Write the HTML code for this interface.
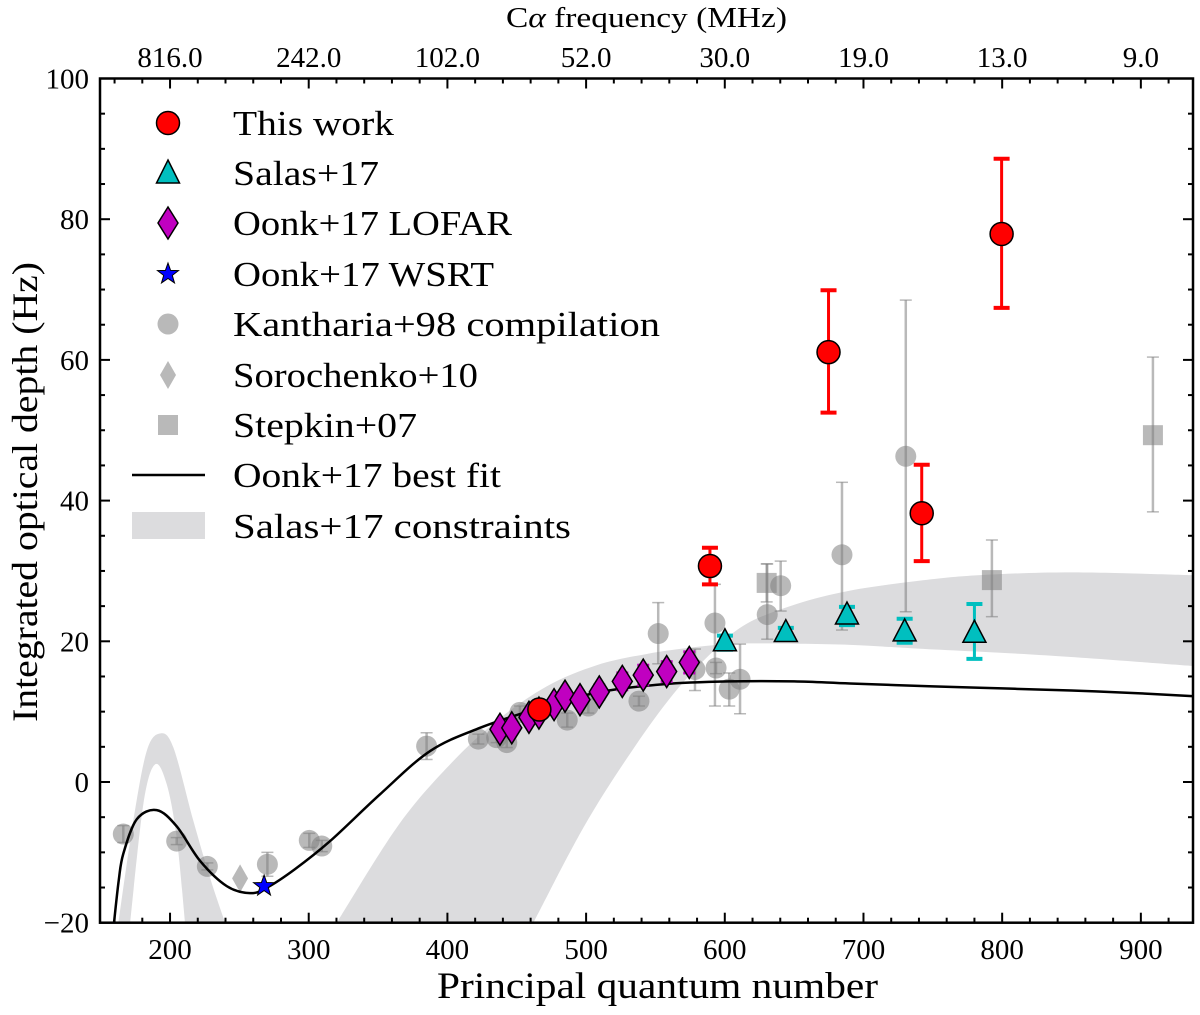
<!DOCTYPE html>
<html><head><meta charset="utf-8"><style>
html,body{margin:0;padding:0;background:#fff;}
svg text{font-family:"Liberation Serif","DejaVu Serif",serif;fill:#000;}
</style></head><body>
<svg id="chart" width="1200" height="1010" viewBox="0 0 1200 1010" xmlns="http://www.w3.org/2000/svg"></svg>
<script>
// ---------- data ----------
const fitN = [159.6,163,166.3,176,190.4,204.8,221.6,240.9,257.7,270,290,315.4,351.4,387.5,423.5,459.6,507.6,555.7,603.8,650,690.3,750,800,850,900,937];
const fitV = [-20,-14,-10.2,-5.3,-4.0,-6.3,-11.2,-14.8,-15.8,-15.0,-12.4,-8.4,-1.75,4.4,7.7,10.1,12.7,13.9,14.3,14.3,14.0,13.6,13.3,13.0,12.6,12.2];

const bandUN = [320.2,363.4,399.5,435.6,471.6,507.6,543.7,579.7,603.8,627.5,690.3,735.7,832,937.5];
const bandUV = [-20,-6.5,2.0,8.7,13.6,16.6,18.2,19.2,19.6,19.7,19.5,19.0,18.0,16.5];
const bandLN = [462,498,531.6,562.9,591.7,615.8,651.8,690.3,740,784,850,937.5];
const bandLV = [-20,-6.5,4.0,12.5,18.6,22.5,25.3,27.2,28.6,29.4,29.8,29.4];
const lobeOuterN = [162.7,173.5,183.2,192.8,202.4,216.8,228.8,239.7];
const lobeOuterV = [-20,-5.5,4.4,6.9,4.9,-5.5,-13.6,-20];
const lobeInnerN = [171.2,180.8,189.2,197.6,204.8,210.8];
const lobeInnerV = [-20,-3.1,2.5,-0.3,-7.9,-20];

const thisN = [466.3,589.3,674.8,742,799.6];
const thisV = [10.3,30.7,61.1,38.2,77.9];
const thisHi = [10.6,33.3,69.9,45.1,88.6];
const thisLo = [10.0,28.1,52.5,31.4,67.4];

const salasN = [600.1,644,688.1,729.7,780];
const salasV = [19.8,21.1,23.6,21.2,21.0];
const salasHi = [20.8,21.9,24.9,23.2,25.3];
const salasLo = [18.8,20.3,22.3,19.8,17.5];

const lofarN = [437.9,446.4,458.8,466,476.9,484.8,495.6,509.5,526.1,541.2,558.1,574.4];
const lofarV = [7.5,7.7,9.2,9.8,11.0,12.2,11.7,12.8,14.3,15.2,15.7,17.0];
const lofarE = [0.5,0.5,0.6,0.6,0.7,0.8,0.8,1.0,1.2,1.4,1.4,1.5];

const wsrtN = [267.8];
const wsrtV = [-14.8];

const kanN = [166.3,204.8,226.9,270.2,300.4,309.4,385,422.3,435.5,442.8,452.3,486.4,501.6,538.1,552,578.5,592.9,593.7,603.2,611,630.6,640.3,684.5,730.5];
const kanV = [-7.4,-8.4,-12.0,-11.7,-8.3,-9.1,5.1,6.1,6.3,5.6,9.9,8.8,10.8,11.5,21.1,16.0,22.6,16.2,13.2,14.6,23.8,27.9,32.3,46.3];
const kanHi = [-6.2,-7.9,-11.5,-10.0,-7.3,-8.3,7.0,6.8,7.0,6.3,10.8,9.8,11.8,12.2,25.5,18.9,28.1,17.0,15.5,19.6,31.0,31.4,42.6,68.5];
const kanLo = [-8.6,-8.9,-12.5,-13.4,-9.3,-9.9,3.2,5.4,5.6,4.9,9.0,7.8,9.8,10.8,16.8,13.0,10.8,15.4,10.8,9.7,20.3,24.3,21.6,24.2];

const soroN = [250.5];
const soroV = [-13.7];

const stepN = [630.2,792.6,908.7];
const stepV = [28.3,28.7,49.3];
const stepHi = [31.0,34.4,60.4];
const stepLo = [25.6,23.5,38.4];

const xTicks = [200,300,400,500,600,700,800,900];
const yTicks = [-20,0,20,40,60,80,100];
const yTickLabels = ["\u221220","0","20","40","60","80","100"];
const freqLabels = ["816.0","242.0","102.0","52.0","30.0","19.0","13.0","9.0"];

// ---------- axes ----------
const L=100,R=1193,T=78.5,B=922.7;
const XMIN=149.5,XMAX=937.6,YMIN=-20,YMAX=100;
const X = n => L + (n-XMIN)/(XMAX-XMIN)*(R-L);
const Y = v => B - (v-YMIN)/(YMAX-YMIN)*(B-T);

const NS="http://www.w3.org/2000/svg";
const svg=document.getElementById('chart');
function mk(tag, attrs, parent){
  const e=document.createElementNS(NS,tag);
  for(const k in attrs) e.setAttribute(k,attrs[k]);
  (parent||svg).appendChild(e);
  return e;
}
const defs=mk('defs',{});
const cp=mk('clipPath',{id:'pc'},defs);
mk('rect',{x:L,y:T,width:R-L,height:B-T},cp);

const plot=mk('g',{'clip-path':'url(#pc)'});



function smooth(xs,ys){
  const p=xs.map((x,i)=>[X(x),Y(ys[i])]);
  let d='M'+p[0][0].toFixed(2)+','+p[0][1].toFixed(2);
  for(let i=0;i<p.length-1;i++){
    const p0=p[i-1]||p[i],p1=p[i],p2=p[i+1],p3=p[i+2]||p2;
    const c1=[p1[0]+(p2[0]-p0[0])/6,p1[1]+(p2[1]-p0[1])/6];
    const c2=[p2[0]-(p3[0]-p1[0])/6,p2[1]-(p3[1]-p1[1])/6];
    d+='C'+c1.map(v=>v.toFixed(2)).join(',')+' '+c2.map(v=>v.toFixed(2)).join(',')+' '+p2[0].toFixed(2)+','+p2[1].toFixed(2);
  }
  return d;
}
function smoothRev(xs,ys){return smooth(xs.slice().reverse(),ys.slice().reverse());}

// bands
const bandB = mk('path',{d: smooth(bandUN,bandUV)+' L'+smoothRev(bandLN,bandLV).slice(1)+' Z',fill:'#dcdcde',stroke:'none'},plot);


const bandA = mk('path',{d: smooth(lobeOuterN,lobeOuterV)+' L'+smoothRev(lobeInnerN,lobeInnerV).slice(1)+' Z',fill:'#dcdcde',stroke:'none'},plot);



function ebar(g,n,hi,lo,color,w,cap,capw,op){
  const x=X(n);
  mk('line',{x1:x,x2:x,y1:Y(hi),y2:Y(lo),stroke:color,'stroke-width':w,'stroke-opacity':op},g);
  mk('line',{x1:x-cap,x2:x+cap,y1:Y(hi),y2:Y(hi),stroke:color,'stroke-width':capw,'stroke-opacity':op},g);
  mk('line',{x1:x-cap,x2:x+cap,y1:Y(lo),y2:Y(lo),stroke:color,'stroke-width':capw,'stroke-opacity':op},g);
}

const gK=mk('g',{},plot);


kanN.forEach((n,i)=>{
  ebar(gK,n,kanHi[i],kanLo[i],'#808080',2.5,6,1.5,0.55);
  const c=mk('circle',{cx:X(n),cy:Y(kanV[i]),r:10.5,fill:'#808080','fill-opacity':0.55},gK);
  
  
});
soroN.forEach((n,i)=>{
  const x=X(n),y=Y(soroV[i]);
  const p=mk('polygon',{points:`${x},${y-14} ${x+8},${y} ${x},${y+14} ${x-8},${y}`,fill:'#808080','fill-opacity':0.55},plot);
  
  
});
const gS=mk('g',{},plot);


stepN.forEach((n,i)=>{
  ebar(gS,n,stepHi[i],stepLo[i],'#808080',2.5,6,1.5,0.55);
  const s=mk('rect',{x:X(n)-10,y:Y(stepV[i])-10,width:20,height:20,fill:'#808080','fill-opacity':0.55},gS);
  
  
});

const fit=mk('path',{d:smooth(fitN,fitV),fill:'none',stroke:'#000','stroke-width':2.5},plot);



const gLo=mk('g',{},plot);


lofarN.forEach((n,i)=>{
  ebar(gLo,n,lofarV[i]+lofarE[i],lofarV[i]-lofarE[i],'#c000c0',2.5,6,3,1);
  const x=X(n),y=Y(lofarV[i]);
  const p=mk('polygon',{points:`${x},${y-16} ${x+10},${y} ${x},${y+16} ${x-10},${y}`,fill:'#c000c0',stroke:'#000','stroke-width':1.5},gLo);
  
  
});
wsrtN.forEach((n,i)=>{
  const x=X(n),y=Y(wsrtV[i]);let pts=[];
  for(let k=0;k<10;k++){const a=-Math.PI/2+k*Math.PI/5;const r=k%2?4.5:11;pts.push((x+r*Math.cos(a)).toFixed(1)+','+(y+r*Math.sin(a)).toFixed(1));}
  const s=mk('polygon',{points:pts.join(' '),fill:'#0000ff',stroke:'#000','stroke-width':1},plot);
  
  
});
const gSa=mk('g',{},plot);


salasN.forEach((n,i)=>{
  ebar(gSa,n,salasHi[i],salasLo[i],'#00bfbf',3,8,4,1);
  const x=X(n),y=Y(salasV[i]);
  const t=mk('polygon',{points:`${x},${y-14} ${x+11.5},${y+8} ${x-11.5},${y+8}`,fill:'#00bfbf',stroke:'#000','stroke-width':1.5},gSa);
  
  
});
const gT=mk('g',{},plot);


thisN.forEach((n,i)=>{
  ebar(gT,n,thisHi[i],thisLo[i],'#ff0000',3,8,4,1);
  const c=mk('circle',{cx:X(n),cy:Y(thisV[i]),r:11.5,fill:'#ff0000',stroke:'#000','stroke-width':1.5},gT);
  
  
});

const frame=mk('rect',{x:L,y:T,width:R-L,height:B-T,fill:'none',stroke:'#000','stroke-width':2.5});


const gt=mk('g',{stroke:'#000','stroke-width':2});


for(let n=160;n<=XMAX;n+=20){
  const x=X(n);const major=(n%100===0);const len=major?10:5;
  mk('line',{x1:x,x2:x,y1:B,y2:B-len},gt);
  mk('line',{x1:x,x2:x,y1:T,y2:T+len},gt);
}
for(let v=-20;v<=100;v+=5){
  const y=Y(v);const major=(v%20===0);const len=major?10:5;
  mk('line',{x1:L,x2:L+len,y1:y,y2:y},gt);
  mk('line',{x1:R,x2:R-len,y1:y,y2:y},gt);
}
xTicks.forEach((n,i)=>{
  const t=mk('text',{x:X(n),y:959,'font-size':29,'text-anchor':'middle'});
  t.textContent=String(n);
  
  
  const f=mk('text',{x:X(n),y:67,'font-size':29,'text-anchor':'middle'});
  f.textContent=freqLabels[i];
  
  
});
yTicks.forEach((v,i)=>{
  const t=mk('text',{x:89,y:Y(v)+10,'font-size':29,'text-anchor':'end'});
  t.textContent=yTickLabels[i];
  
  
});
</script>
<svg style="position:absolute;left:0;top:0" width="1200" height="1010">
<text x="437" y="998" font-size="37" textLength="441" lengthAdjust="spacingAndGlyphs">Principal quantum number</text>
<text x="506" y="27" font-size="29" textLength="281" lengthAdjust="spacingAndGlyphs">C<tspan font-style="italic">α</tspan> frequency (MHz)</text>
<text x="0" y="0" font-size="36" text-anchor="middle" textLength="460" lengthAdjust="spacingAndGlyphs" transform="translate(37,492) rotate(-90)">Integrated optical depth (Hz)</text>
<g font-size="35">
  <circle cx="168" cy="123" r="11.5" fill="#ff0000" stroke="#000" stroke-width="1.5"/>
  <text x="233" y="135" textLength="161" lengthAdjust="spacingAndGlyphs">This work</text>
  <polygon points="168,160 179.5,183 156.5,183" fill="#00bfbf" stroke="#000" stroke-width="1.5"/>
  <text x="233" y="185" textLength="146" lengthAdjust="spacingAndGlyphs">Salas+17</text>
  <polygon points="168,207 178,223 168,239 158,223" fill="#c000c0" stroke="#000" stroke-width="1.5"/>
  <text x="233" y="235" textLength="279" lengthAdjust="spacingAndGlyphs">Oonk+17 LOFAR</text>
  <polygon points="168,263 170.6,270.4 178.5,270.6 172.3,275.4 174.5,282.9 168,278.5 161.5,282.9 163.7,275.4 157.5,270.6 165.4,270.4" fill="#0000ff" stroke="#000" stroke-width="1"/>
  <text x="233" y="286" textLength="261" lengthAdjust="spacingAndGlyphs">Oonk+17 WSRT</text>
  <circle cx="168" cy="324" r="10.5" fill="#808080" fill-opacity="0.55"/>
  <text x="233" y="336" textLength="427" lengthAdjust="spacingAndGlyphs">Kantharia+98 compilation</text>
  <polygon points="168,361 176,375 168,389 160,375" fill="#808080" fill-opacity="0.55"/>
  <text x="233" y="387" textLength="245" lengthAdjust="spacingAndGlyphs">Sorochenko+10</text>
  <rect x="158" y="415" width="20" height="20" fill="#808080" fill-opacity="0.55"/>
  <text x="233" y="437" textLength="184" lengthAdjust="spacingAndGlyphs">Stepkin+07</text>
  <line x1="132" x2="205" y1="475" y2="475" stroke="#000" stroke-width="2.5"/>
  <text x="233" y="487" textLength="268" lengthAdjust="spacingAndGlyphs">Oonk+17 best fit</text>
  <rect x="132" y="512" width="73" height="27" fill="#dcdcde"/>
  <text x="233" y="538" textLength="338" lengthAdjust="spacingAndGlyphs">Salas+17 constraints</text>
</g>
</svg>
</body></html>
